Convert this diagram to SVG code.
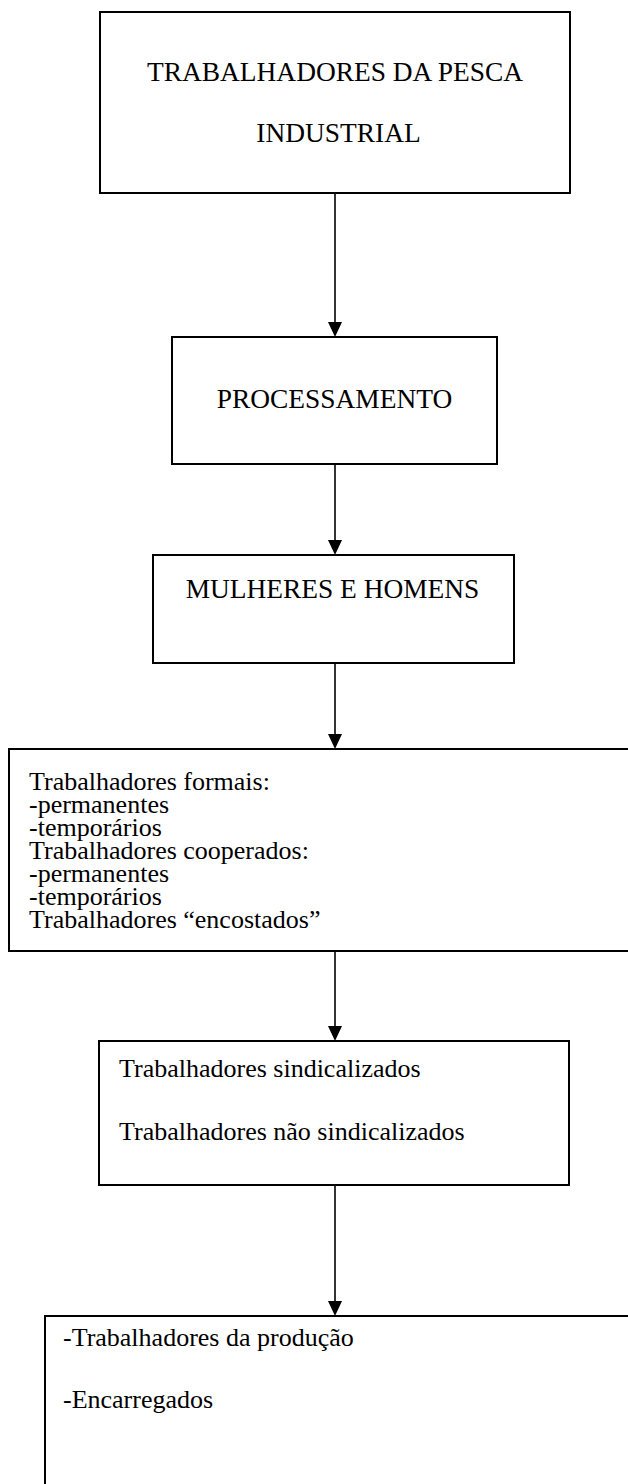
<svg xmlns="http://www.w3.org/2000/svg" width="628" height="1484" viewBox="0 0 628 1484">
<style>
.box{fill:#fff;stroke:#000;stroke-width:2}
.t{font-family:"Liberation Serif","Times New Roman",serif;font-size:26px;fill:#000}
.h{font-size:27.4px;text-anchor:middle}
.con{stroke:#000;stroke-width:1.6;fill:none}
.ah{fill:#000}
</style>
<rect width="628" height="1484" fill="#fff"/>
<g id="connectors">
<line class="con" x1="335" y1="193" x2="335" y2="323"/>
<path class="ah" d="M328,322 L342,322 L335,337 Z"/>
<line class="con" x1="335" y1="464" x2="335" y2="541"/>
<path class="ah" d="M328,540 L342,540 L335,555 Z"/>
<line class="con" x1="335" y1="663" x2="335" y2="735"/>
<path class="ah" d="M328,734 L342,734 L335,749 Z"/>
<line class="con" x1="335" y1="951" x2="335" y2="1027"/>
<path class="ah" d="M328,1026 L342,1026 L335,1041 Z"/>
<line class="con" x1="335" y1="1185" x2="335" y2="1302"/>
<path class="ah" d="M328,1301 L342,1301 L335,1316 Z"/>
</g>
<g id="n1">
<rect class="box" x="100" y="12" width="470" height="181"/>
<text class="t h" x="335" y="81">TRABALHADORES DA PESCA</text>
<text class="t h" x="338.5" y="142">INDUSTRIAL</text>
</g>
<g id="n2">
<rect class="box" x="172" y="337" width="325" height="127"/>
<text class="t h" x="334.5" y="408">PROCESSAMENTO</text>
</g>
<g id="n3">
<rect class="box" x="153" y="555" width="361" height="108"/>
<text class="t h" x="332.5" y="598">MULHERES E HOMENS</text>
</g>
<g id="n4">
<rect class="box" x="9" y="749" width="630" height="202"/>
<text class="t" x="29" y="790"><tspan x="29" y="790">Trabalhadores formais:</tspan><tspan x="29" y="813">-permanentes</tspan><tspan x="29" y="836">-temporários</tspan><tspan x="29" y="859">Trabalhadores cooperados:</tspan><tspan x="29" y="882">-permanentes</tspan><tspan x="29" y="905">-temporários</tspan><tspan x="29" y="928">Trabalhadores “encostados”</tspan></text>
</g>
<g id="n5">
<rect class="box" x="99" y="1041" width="470" height="144"/>
<text class="t" x="119" y="1077">Trabalhadores sindicalizados</text>
<text class="t" x="119" y="1140">Trabalhadores não sindicalizados</text>
</g>
<g id="n6">
<rect class="box" x="45" y="1316" width="600" height="200"/>
<text class="t" x="63" y="1346">-Trabalhadores da produção</text>
<text class="t" x="63" y="1408">-Encarregados</text>
</g>
</svg>
